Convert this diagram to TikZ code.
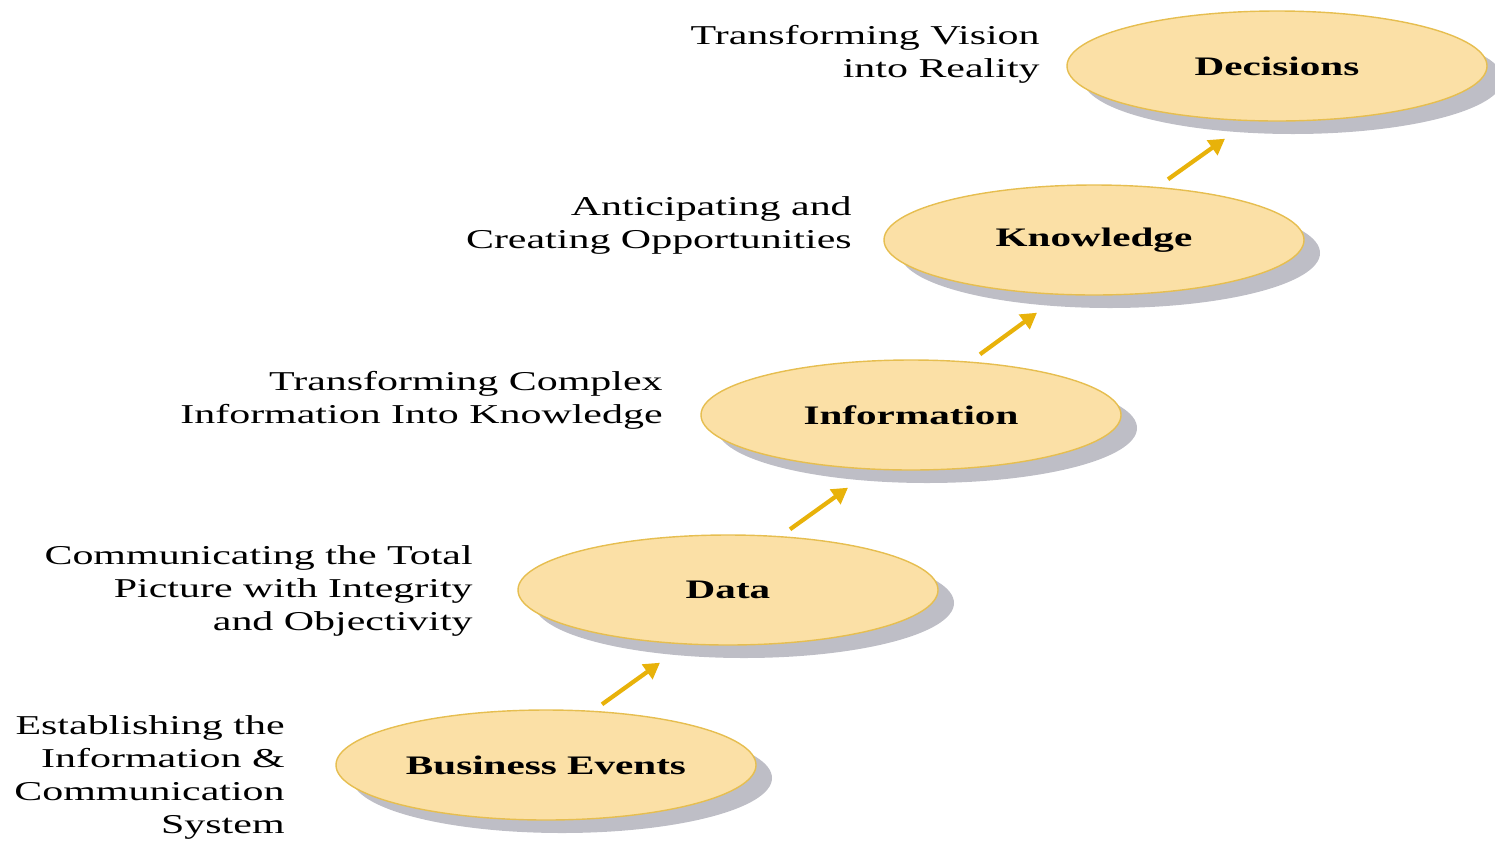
\documentclass[tikz,border=0pt]{standalone}
\usepackage{fontspec}
\setmainfont{Liberation Serif}[FakeStretch=1.54]
\usepackage{tikz}
\usetikzlibrary{shapes.geometric}
\usetikzlibrary{shadows}
\usetikzlibrary {arrows.meta}

\definecolor{peach}{RGB}{251,224,166}
\definecolor{rim}{RGB}{230,190,80}
\definecolor{gold}{RGB}{232,178,10}
\definecolor{shade}{RGB}{190,190,198}

\tikzset{
    stage/.style={ellipse, draw=rim, line width=0.8pt, fill=peach,
        minimum width=8.4cm, minimum height=2.2cm, inner sep=0pt,
        font=\fontsize{15.2}{18.8}\selectfont\bfseries,
        drop shadow={shadow xshift=0.32cm, shadow yshift=-0.26cm, fill=shade, opacity=1}},
    goal/.style={anchor=east, align=right, inner sep=0pt,
        font=\fontsize{15.5}{18.8}\selectfont},
    climb/.style={draw=gold, line width=2.4pt, -{Triangle[length=9pt, width=10pt]}}
}

\begin{document}
\begin{tikzpicture}
        \useasboundingbox (0,0) rectangle (29.9,-16.82);

        % Business events
        \node[stage] (events) at (10.92,-15.3) {Business Events};
        \node[goal] (system) at (5.7,-15.55)
            {Establishing the\\Information \&\\Communication\\System};

        % Data
        \node[stage] (data) at (14.56,-11.8) {Data};
        \node[goal] (total) at (9.46,-11.82)
            {Communicating the Total\\Picture with Integrity\\and Objectivity};

        % Information
        \node[stage] (info) at (18.22,-8.3) {Information};
        \node[goal] (complex) at (13.26,-8.0)
            {Transforming Complex\\Information Into Knowledge};

        % Knowledge
        \node[stage] (know) at (21.88,-4.8) {Knowledge};
        \node[goal] (chance) at (17.04,-4.51)
            {Anticipating and\\Creating Opportunities};

        % Decisions
        \node[stage] (decide) at (25.54,-1.32) {Decisions};
        \node[goal] (vision) at (20.8,-1.09)
            {Transforming Vision\\into Reality};

        % Steps up
        \draw[climb] ([xshift=1.12cm,yshift=0.1cm]events.north) -- ([xshift=-1.36cm,yshift=-0.34cm]data.south);
        \draw[climb] ([xshift=1.24cm,yshift=0.1cm]data.north) -- ([xshift=-1.26cm,yshift=-0.34cm]info.south);
        \draw[climb] ([xshift=1.38cm,yshift=0.1cm]info.north) -- ([xshift=-1.14cm,yshift=-0.34cm]know.south);
        \draw[climb] ([xshift=1.48cm,yshift=0.1cm]know.north) -- ([xshift=-1.04cm,yshift=-0.34cm]decide.south);
    \end{tikzpicture}
\end{document}
